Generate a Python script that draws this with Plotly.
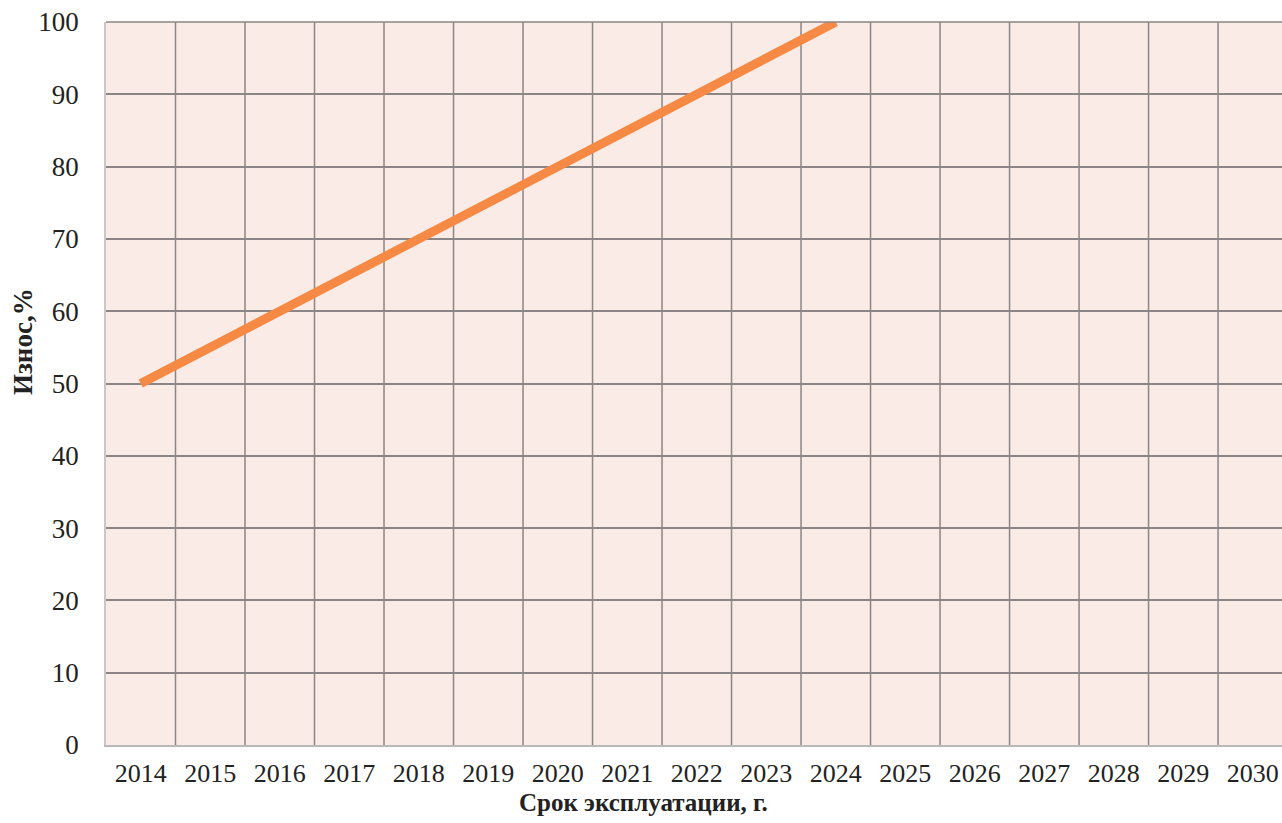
import plotly.graph_objects as go

years = [str(y) for y in range(2014, 2031)]
wear = [50, 55, 60, 65, 70, 75, 80, 85, 90, 95, 100, None, None, None, None, None, None]
y_ticks = [0, 10, 20, 30, 40, 50, 60, 70, 80, 90, 100]

serif = "Liberation Serif, Times New Roman, serif"
grid_color = "#8c8585"

fig = go.Figure()
fig.add_trace(go.Scatter(
    x=list(range(len(years))), y=wear, mode="lines",
    line=dict(color="#F68A45", width=9),
    showlegend=False,
))

for i in range(len(years)):
    fig.add_shape(type="line", xref="x", yref="paper", x0=i + 0.5, x1=i + 0.5, y0=0, y1=1,
                  line=dict(color=grid_color, width=1.5), layer="below")

fig.update_layout(
    width=1282, height=823,
    margin=dict(l=106, r=0, t=22, b=78),
    paper_bgcolor="white",
    plot_bgcolor="#FBEBE6",
    font=dict(family=serif, size=27, color="#222"),
    xaxis=dict(
        range=[-0.5, 16.42],
        tickmode="array", tickvals=list(range(len(years))), ticktext=years,
        showgrid=False, zeroline=False,
        showline=True, linecolor="#b8b8b8", linewidth=1.5,
        ticks="outside", ticklen=4, tickcolor="rgba(0,0,0,0)",
        tickfont=dict(family=serif, size=26, color="#222"),
    ),
    yaxis=dict(
        range=[0, 100],
        tickmode="array", tickvals=y_ticks,
        showgrid=True, gridcolor=grid_color, gridwidth=1.5,
        zeroline=False,
        showline=True, linecolor="#c8c8c8", linewidth=1.5,
        ticks="outside", ticklen=20, tickcolor="rgba(0,0,0,0)",
        tickfont=dict(family=serif, size=27, color="#222"),
    ),
    annotations=[
        dict(text="<b>Срок эксплуатации, г.</b>", xref="paper", yref="paper",
             x=(643 - 106) / 1176, y=0, yshift=-57, xanchor="center", yanchor="middle",
             showarrow=False, font=dict(family=serif, size=25, color="#222")),
        dict(text="<b>Износ,%</b>", xref="paper", yref="paper",
             x=0, xshift=-83, y=(745 - 342) / 723, xanchor="center", yanchor="middle",
             textangle=-90, showarrow=False, font=dict(family=serif, size=27, color="#222")),
    ],
)
fig.add_shape(type="line", xref="paper", yref="paper", x0=0, x1=1, y0=1, y1=1,
              line=dict(color=grid_color, width=1.5))

fig.write_html("out.html", config={"displayModeBar": False},
               post_script="document.body.style.margin='0';document.body.style.overflow='hidden';")
